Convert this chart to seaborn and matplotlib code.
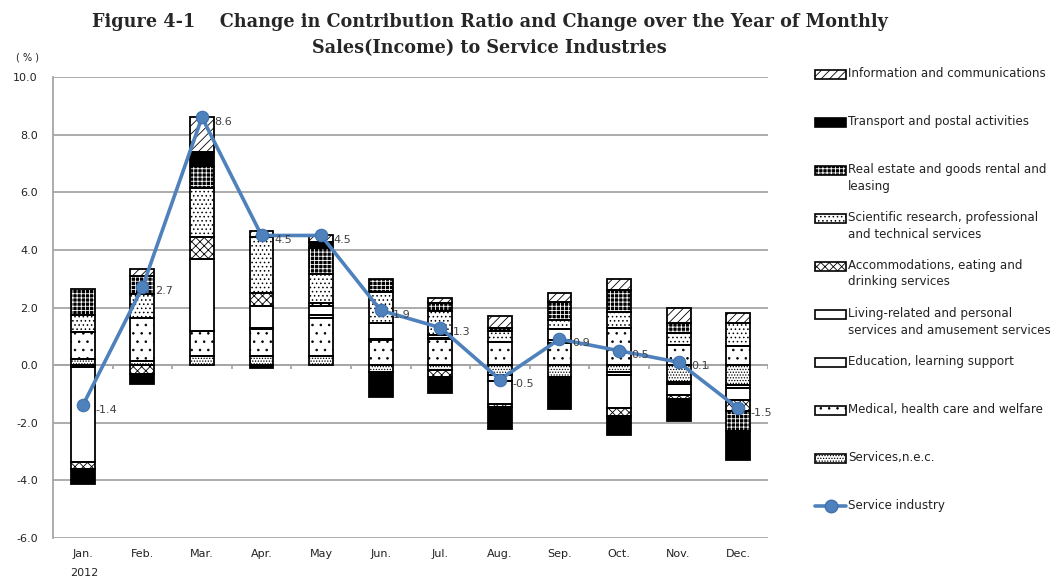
import matplotlib
matplotlib.use("Agg")
import matplotlib.pyplot as plt
from matplotlib.patches import Rectangle
from matplotlib.lines import Line2D
import seaborn as sns
import numpy as np
import pandas as pd

# Months and yearly label
months = ["Jan.", "Feb.", "Mar.", "Apr.", "May", "Jun.", "Jul.", "Aug.", "Sep.", "Oct.", "Nov.", "Dec."]
year_label = "2012"

# Contribution of each industry (stacked bottom-up in this order)
services_nec = [0.2, 0.15, 0.3, 0.3, 0.3, -0.25, -0.17, -0.35, -0.4, -0.25, -0.6, -0.7]
medical = [0.95, 1.5, 0.9, 0.95, 1.35, 0.87, 0.9, 0.8, 0.76, 1.3, 0.7, 0.66]
education = [-0.07, 0.0, 0.0, 0.05, 0.1, 0.05, 0.05, -0.2, 0.1, -0.1, -0.05, -0.1]
living = [-3.3, 0.0, 2.5, 0.75, 0.3, 0.53, 0.08, -0.8, 0.4, -1.15, -0.4, -0.4]
accommodation = [-0.25, -0.3, 0.75, 0.45, 0.1, 0.0, -0.25, -0.1, 0.0, -0.25, -0.12, -0.4]
scientific = [0.6, 0.83, 1.7, 1.95, 1.0, 1.1, 0.85, 0.38, 0.32, 0.55, 0.4, 0.79]
real_estate = [0.9, 0.6, 0.75, 0.0, 0.93, 0.45, 0.27, 0.1, 0.6, 0.76, 0.37, -0.7]
transport = [-0.5, -0.35, 0.5, -0.1, 0.2, -0.85, -0.55, -0.75, -1.13, -0.68, -0.77, -1.0]
information = [0.0, 0.25, 1.2, 0.2, 0.22, 0.0, 0.17, 0.42, 0.31, 0.39, 0.53, 0.35]

# Change over the year of the whole service industry
service_industry = [-1.4, 2.7, 8.6, 4.5, 4.5, 1.9, 1.3, -0.5, 0.9, 0.5, 0.1, -1.5]

series = [
    ("Services,n.e.c.", services_nec),
    ("Medical, health care and welfare", medical),
    ("Education, learning support", education),
    ("Living-related and personal\nservices and amusement services", living),
    ("Accommodations, eating and\ndrinking services", accommodation),
    ("Scientific research, professional\nand technical services", scientific),
    ("Real estate and goods rental and\nleasing", real_estate),
    ("Transport and postal activities", transport),
    ("Information and communications", information),
]

# fill colour, hatch colour, hatch pattern
styles = {
    "Services,n.e.c.": ("white", "black", "......"),
    "Medical, health care and welfare": ("white", "black", ".."),
    "Education, learning support": ("white", "black", None),
    "Living-related and personal\nservices and amusement services": ("white", "black", None),
    "Accommodations, eating and\ndrinking services": ("white", "black", "xxxx"),
    "Scientific research, professional\nand technical services": ("white", "black", "...."),
    "Real estate and goods rental and\nleasing": ("black", "white", "++++"),
    "Transport and postal activities": ("black", "black", None),
    "Information and communications": ("white", "black", "////"),
}

sns.set_style("white")
plt.rcParams["font.family"] = ["DejaVu Sans"]
plt.rcParams["hatch.linewidth"] = 0.6

fig = plt.figure(figsize=(10.59, 5.77), dpi=100)
ax = fig.add_axes([53 / 1059, 39 / 577, 715 / 1059, 461 / 577])

x = np.arange(len(months))
width = 0.4
pos_bottom = np.zeros(len(months))
neg_bottom = np.zeros(len(months))

for name, vals in series:
    vals = np.array(vals)
    face, hcol, hatch = styles[name]
    for i, v in enumerate(vals):
        if v == 0:
            continue
        if v > 0:
            b = pos_bottom[i]
            pos_bottom[i] += v
        else:
            b = neg_bottom[i]
            neg_bottom[i] += v
        ax.bar(x[i], v, width, bottom=b, color=face, edgecolor=hcol, hatch=hatch,
               linewidth=0, zorder=2)
        ax.bar(x[i], v, width, bottom=b, fill=False, edgecolor="black",
               linewidth=1.3, zorder=3)

line_df = pd.DataFrame({"x": x, "y": service_industry})
sns.lineplot(data=line_df, x="x", y="y", ax=ax, color="#4F81BD", linewidth=2.6,
             marker="o", markersize=9, markeredgecolor="#3E70AD", zorder=5)

for xi, yi in zip(x, service_industry):
    ax.annotate(f"{yi:.1f}", (xi, yi), xytext=(9, -3), textcoords="offset points",
                ha="left", va="center", fontsize=8, color="#404040", zorder=6)

# axes styling
ax.set_xlim(-0.5, 11.5)
ax.set_ylim(-6, 10)
ax.set_yticks(np.arange(-6, 10.1, 2))
ax.set_yticklabels([f"{t:.1f}" for t in np.arange(-6, 10.1, 2)], fontsize=8, color="#222222")
ax.yaxis.grid(True, color="#A6A6A6", linewidth=1.3, zorder=0)
ax.set_axisbelow(True)
ax.tick_params(axis="y", length=5, color="#A6A6A6", width=1.3, pad=6)
ax.set_xticks(x)
ax.set_xticklabels(months, fontsize=8, color="#222222")
ax.tick_params(axis="x", length=0, pad=8)
for s in ["top", "right", "bottom"]:
    ax.spines[s].set_visible(False)
ax.spines["left"].set_color("#A6A6A6")
ax.spines["left"].set_linewidth(1.3)
ax.axhline(0, color="#A6A6A6", linewidth=1.3, zorder=1)
ax.vlines(np.arange(-0.5, 12), -0.15, 0, color="#A6A6A6", linewidth=1.3, zorder=1)
ax.set_xlabel("")
ax.set_ylabel("")

fig.text(27 / 1059, 1 - 58 / 577, "( % )", fontsize=7, ha="center", va="center", color="#222222")
fig.text(84 / 1059, 1 - 573 / 577, year_label, fontsize=8, ha="center", va="center", color="#222222")

fig.text(490 / 1059, 1 - 22 / 577,
         "Figure 4-1    Change in Contribution Ratio and Change over the Year of Monthly",
         fontsize=12.7, fontweight="bold", family="DejaVu Serif", ha="center", va="center")
fig.text(489 / 1059, 1 - 48 / 577, "Sales(Income) to Service Industries",
         fontsize=12.7, fontweight="bold", family="DejaVu Serif", ha="center", va="center")

# legend drawn by hand to keep the even spacing of the original
legend_names = [n for n, _ in series][::-1]
ys = [74, 122, 170, 218, 266, 314, 362, 410, 458]
for name, ypx in zip(legend_names, ys):
    face, hcol, hatch = styles[name]
    x0, w, h = 815 / 1059, 31 / 1059, 9 / 577
    y0 = 1 - (ypx + 4.5) / 577
    fig.patches.append(Rectangle((x0, y0), w, h, transform=fig.transFigure,
                                 facecolor=face, edgecolor=hcol, hatch=hatch, linewidth=0))
    fig.patches.append(Rectangle((x0, y0), w, h, transform=fig.transFigure,
                                 fill=False, edgecolor="black", linewidth=1.2))
    fig.text(848 / 1059, 1 - (ypx - 7) / 577, name, fontsize=8.6, ha="left", va="top",
             linespacing=1.35, color="#222222")

fig.lines.append(Line2D([815 / 1059, 846 / 1059], [1 - 506 / 577] * 2, transform=fig.transFigure,
                        color="#4F81BD", linewidth=2.6))
fig.lines.append(Line2D([830.5 / 1059], [1 - 506 / 577], transform=fig.transFigure,
                        color="#4F81BD", marker="o", markersize=9, markeredgecolor="#3E70AD"))
fig.text(848 / 1059, 1 - 506 / 577, "Service industry", fontsize=8.6, ha="left", va="center",
         color="#222222")

fig.savefig("out.png", dpi=100)
